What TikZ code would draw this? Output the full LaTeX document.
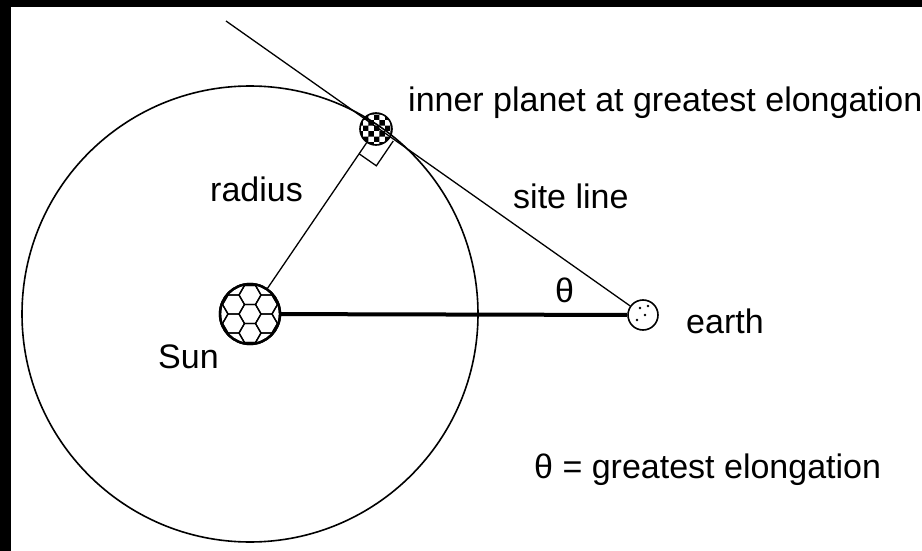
\documentclass[tikz,border=0pt]{standalone}
\usepackage{fontspec}
\setmainfont{Liberation Sans}
\usepackage{tikz}
\usetikzlibrary{calc,patterns}

\begin{document}
\begin{tikzpicture}[x=1pt, y=-1pt,
    body/.style={circle, draw, fill=white, inner sep=0pt},
    orbit/.style={line width=1.6pt},
    sight/.style={line width=1.3pt},
    lbl/.style={anchor=base west, inner sep=0pt, font=\fontsize{34}{40}\selectfont}
]
    \useasboundingbox (0,0) rectangle (922,551);
    \fill[black] (0,0) rectangle (922,551);
    \fill[white] (11,7) rectangle (922,551);

    \coordinate (far) at (226,21);
    \node[body, line width=2.4pt, minimum size=60pt]             (sun)    at (250,314) {};
    \node[body, line width=1.6pt, minimum size=30pt]             (earth)  at (643,315) {};

    \draw[orbit] (sun.center) circle[radius=228pt];
    \draw[sight] (far) -- (earth);

    \node[body, line width=1.6pt, minimum size=32pt,
          pattern=checkerboard]                                  (planet) at (376,129) {};
    \draw[sight] (sun) -- (planet);
    \draw[line width=4pt] (sun) -- (earth);

    \coordinate (ra) at ($(planet)!30pt!(sun)$);
    \coordinate (rb) at ($(planet)!21pt!(earth)$);
    \coordinate (rc) at ($(ra)+(rb)-(planet)$);
    \draw[sight] (ra) -- (rc) -- (rb);

    \begin{scope}
        \clip (sun.center) circle[radius=29pt];
        \foreach \i in {-2,...,2}
            \foreach \j in {-2,...,2} {
                \pgfmathsetmacro{\hx}{250+16.5*\i}
                \pgfmathsetmacro{\hy}{314+19*\j+9.5*mod(\i+4,2)}
                \draw[line width=1.3pt, shift={(\hx,\hy)}]
                    (0:11pt) -- (60:11pt) -- (120:11pt) -- (180:11pt)
                    -- (240:11pt) -- (300:11pt) -- cycle;
            }
    \end{scope}
    \draw[line width=2.4pt] (sun) circle[radius=30pt];

    \foreach \dx/\dy in {-3/-7, 5/-9, 2/0, -6/5}
        \fill ($(earth)+(\dx,\dy)$) circle[radius=1.4pt];

    \node[lbl] (tplanet) at (408,112) {inner planet at greatest elongation};
    \node[lbl] (tradius) at (210,201) {radius};
    \node[lbl] (tsite)   at (513,208) {site line};
    \node[lbl] (ttheta)  at (555,302) {θ};
    \node[lbl] (tearth)  at (686,333) {earth};
    \node[lbl] (tsun)    at (158,368) {Sun};
    \node[lbl] (tdef)    at (534,478) {θ = greatest elongation};
\end{tikzpicture}
\end{document}
